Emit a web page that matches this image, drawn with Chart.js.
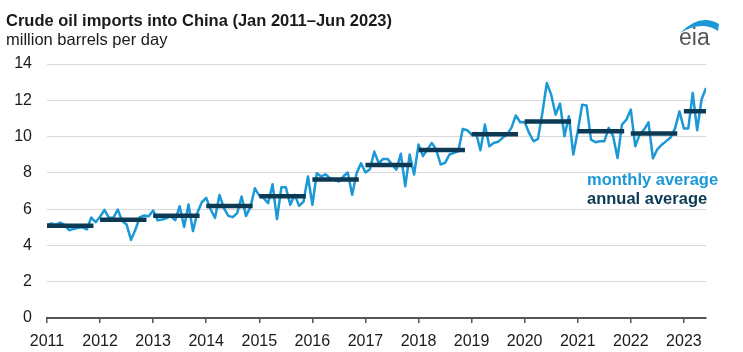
<!DOCTYPE html>
<html><head><meta charset="utf-8">
<script src="https://cdn.jsdelivr.net/npm/chart.js@4"></script>
<style>
html,body{margin:0;padding:0;background:#fff;}
#wrap{position:relative;width:743px;height:352px;overflow:hidden;font-family:"Liberation Sans",Arial,sans-serif;}
canvas{position:absolute;left:0;top:0;}
.t{position:absolute;white-space:nowrap;line-height:19px;font-size:16.5px;}
</style></head><body>
<div id="wrap">
<canvas id="c" width="743" height="352"></canvas>
<div class="t" style="left:6px;top:11px;font-weight:bold;color:#1a1a1a">Crude oil imports into China (Jan 2011–Jun 2023)</div>
<div class="t" style="left:6px;top:30px;color:#1a1a1a">million barrels per day</div>
<div class="t" style="left:587px;top:170px;font-weight:bold;color:#1b98d5">monthly average</div>
<div class="t" style="left:587px;top:189px;font-weight:bold;color:#0c3a55">annual average</div>
<svg style="position:absolute;left:676px;top:10px" width="50" height="30"><path d="M4 23 Q24 3 43 14 L42 21 Q26 10 4 23 Z" fill="#1b98d5"/></svg>
<div class="t" style="left:679px;top:24px;font-size:23px;line-height:26px;color:#555">eia</div>
</div>
<script>
const yearLabels = ['2011','2012','2013','2014','2015','2016','2017','2018','2019','2020','2021','2022','2023'];
const m2011 = [5.13,5.21,5.13,5.26,5.12,4.84,4.91,4.97,5.00,4.88,5.54,5.28];
const m2012 = [5.58,5.96,5.52,5.52,5.98,5.34,5.15,4.31,4.88,5.56,5.65,5.61];
const m2013 = [5.92,5.39,5.43,5.50,5.61,5.39,6.16,5.02,6.26,4.79,5.80,6.38];
const m2014 = [6.62,5.98,5.52,6.78,6.05,5.63,5.56,5.78,6.69,5.63,6.11,7.15];
const m2015 = [6.75,6.60,6.33,7.37,5.45,7.21,7.21,6.24,6.79,6.18,6.42,7.80];
const m2016 = [6.24,7.98,7.80,7.92,7.70,7.61,7.52,7.80,8.02,6.79,7.98,8.53];
const m2017 = [8.02,8.20,9.17,8.53,8.77,8.77,8.46,8.18,9.05,7.26,9.01,7.91];
const m2018 = [9.56,8.92,9.28,9.65,9.28,8.46,8.55,9.01,9.10,9.19,10.42,10.35];
const m2019 = [10.11,10.20,9.25,10.66,9.47,9.65,9.71,9.93,10.11,10.48,11.16,10.79];
const m2020 = [10.80,10.20,9.74,9.87,11.30,12.95,12.31,11.21,11.82,10.02,11.12,9.01];
const m2021 = [10.29,11.76,11.71,9.83,9.69,9.74,9.74,10.48,10.02,8.82,10.66,10.93];
const m2022 = [11.49,9.47,10.11,10.38,10.78,8.80,9.30,9.55,9.75,9.95,10.45,11.39];
const m2023 = [10.45,10.45,12.40,10.35,12.05,12.68];
const annualAverage = [5.08,5.41,5.64,6.17,6.71,7.63,8.43,9.26,10.13,10.83,10.29,10.17,11.39];
const monthlyByYear = [m2011,m2012,m2013,m2014,m2015,m2016,m2017,m2018,m2019,m2020,m2021,m2022,m2023];
const yTicks = [0,2,4,6,8,10,12,14];

const monthlyPoints = [];
monthlyByYear.forEach((arr,k)=>arr.forEach((v,m)=>monthlyPoints.push({x:k*12+m,y:v})));
const lastIndex = monthlyPoints.length-1;
const annualPoints = [];
annualAverage.forEach((v,k)=>{
  const s = k*12;
  const e = Math.min(s+10.5, lastIndex);
  annualPoints.push({x:s,y:v},{x:e,y:v},{x:e+0.01,y:null});
});
const FONT = "'Liberation Sans', Arial, sans-serif";
new Chart(document.getElementById('c'), {
  type:'line',
  data:{datasets:[
    {label:'annual average', data:annualPoints, borderColor:'#0c3a55', borderWidth:4.5, pointRadius:0, spanGaps:false, borderCapStyle:'butt', tension:0},
    {label:'monthly average', data:monthlyPoints, borderColor:'#1b98d5', borderWidth:2.5, pointRadius:0, tension:0, borderJoinStyle:'round'}
  ]},
  options:{
    responsive:false, animation:false, devicePixelRatio:1,
    layout:{padding:{top:64,right:37,left:0,bottom:0}},
    plugins:{legend:{display:false}, tooltip:{enabled:false}},
    scales:{
      x:{type:'linear', min:0, max:lastIndex,
        afterFit(s){s.height=34;},
        ticks:{stepSize:12, includeBounds:false, autoSkip:false, maxRotation:0, color:'#1a1a1a', font:{size:16,family:FONT}, padding:9,
          callback:(v)=> (v%12===0 ? yearLabels[v/12] : null)},
        grid:{display:true, drawOnChartArea:false, drawTicks:true, tickLength:5, color:'#555', lineWidth:1.5},
        border:{display:true, color:'#555', width:2}},
      y:{min:yTicks[0], max:yTicks[yTicks.length-1],
        afterFit(s){s.width=47;},
        ticks:{stepSize:2, color:'#1a1a1a', font:{size:16,family:FONT}, padding:15},
        grid:{color:'#d9d9d9', lineWidth:1, drawTicks:false},
        border:{display:false}}
    }
  }
});
</script>
</body></html>
